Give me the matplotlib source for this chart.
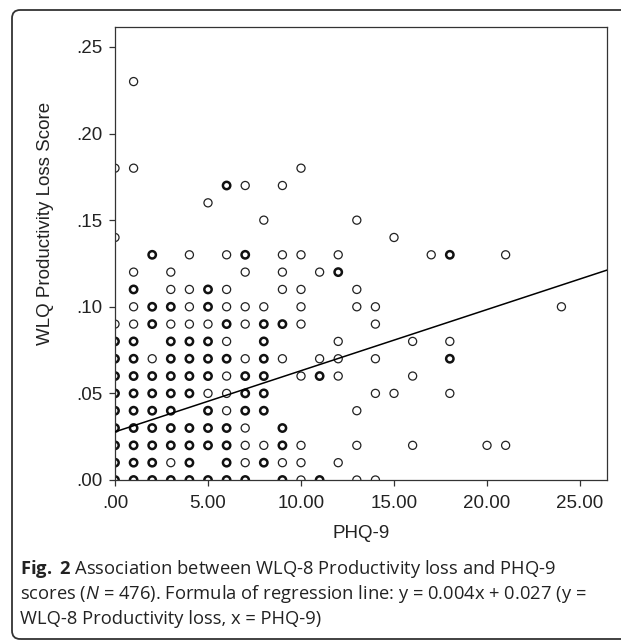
import matplotlib
matplotlib.use("Agg")
import matplotlib.pyplot as plt
from matplotlib.patches import FancyBboxPatch

# PHQ-9 (x) vs WLQ productivity loss (y); points drawn once per position.
# "single" = one respondent at that spot, "stacked" = several overlapping (drawn bold)
single_x = [1, 0, 1, 10, 7, 9, 5, 8, 13, 0, 15,
            4, 6, 9, 10, 12, 17, 21,
            1, 3, 7, 9, 11,
            3, 4, 6, 9, 10, 13,
            1, 4, 6, 7, 8, 10, 13, 14, 24,
            0, 1, 3, 4, 5, 7, 10, 14,
            6, 12, 16, 18,
            2, 7, 9, 11, 12, 14,
            6, 10, 12, 16,
            5, 6, 14, 15, 18,
            6, 13,
            7,
            7, 8, 10, 13, 16, 20, 21,
            3, 7, 9, 10, 12,
            10, 13, 14]
single_y = [.23, .18, .18, .18, .17, .17, .16, .15, .15, .14, .14,
            .13, .13, .13, .13, .13, .13, .13,
            .12, .12, .12, .12, .12,
            .11, .11, .11, .11, .11, .11,
            .10, .10, .10, .10, .10, .10, .10, .10, .10,
            .09, .09, .09, .09, .09, .09, .09, .09,
            .08, .08, .08, .08,
            .07, .07, .07, .07, .07, .07,
            .06, .06, .06, .06,
            .05, .05, .05, .05, .05,
            .04, .04,
            .03,
            .02, .02, .02, .02, .02, .02, .02,
            .01, .01, .01, .01, .01,
            .00, .00, .00]

stacked_x = [6,
             2, 7, 18,
             12,
             1, 5,
             2, 3, 5,
             2, 6, 8, 9,
             0, 1, 3, 4, 5, 8,
             0, 1, 3, 4, 5, 6, 8, 18,
             0, 1, 2, 3, 4, 5, 7, 8, 11,
             0, 1, 2, 3, 4, 7, 8,
             0, 1, 2, 3, 5, 7, 8,
             0, 1, 2, 3, 4, 5, 6, 9,
             0, 1, 2, 3, 4, 5, 6, 9,
             0, 1, 2, 4, 6, 8,
             0, 1, 2, 3, 4, 5, 6, 7, 9, 11]
stacked_y = [.17,
             .13, .13, .13,
             .12,
             .11, .11,
             .10, .10, .10,
             .09, .09, .09, .09,
             .08, .08, .08, .08, .08, .08,
             .07, .07, .07, .07, .07, .07, .07, .07,
             .06, .06, .06, .06, .06, .06, .06, .06, .06,
             .05, .05, .05, .05, .05, .05, .05,
             .04, .04, .04, .04, .04, .04, .04,
             .03, .03, .03, .03, .03, .03, .03, .03,
             .02, .02, .02, .02, .02, .02, .02, .02,
             .01, .01, .01, .01, .01, .01,
             .00, .00, .00, .00, .00, .00, .00, .00, .00, .00]

# fitted line as drawn
slope = 0.00353
intercept = 0.0278

x_ticks = [0, 5, 10, 15, 20, 25]
x_tick_labels = [".00", "5.00", "10.00", "15.00", "20.00", "25.00"]
y_ticks = [0, .05, .10, .15, .20, .25]
y_tick_labels = [".00", ".05", ".10", ".15", ".20", ".25"]

caption = [r"$\bf{Fig.}$ $\bf{2}$ Association between WLQ-8 Productivity loss and PHQ-9",
           r"scores ($\it{N}$ = 476). Formula of regression line: y = 0.004x + 0.027 (y =",
           "WLQ-8 Productivity loss, x = PHQ-9)"]

plt.rcParams['font.family'] = ['Liberation Sans', 'DejaVu Sans']
plt.rcParams['mathtext.fontset'] = 'custom'
plt.rcParams['mathtext.rm'] = 'Open Sans'
plt.rcParams['mathtext.it'] = 'Open Sans:italic'
plt.rcParams['mathtext.bf'] = 'Open Sans:bold'

W, H = 621, 641
fig = plt.figure(figsize=(W / 100, H / 100), dpi=100)
fig.patch.set_facecolor('white')

# rounded frame around the figure (right side runs off the image)
frame = FancyBboxPatch((12 / W, 2 / H), 680 / W, (H - 12) / H,
                       boxstyle="round,pad=0,rounding_size=0.013",
                       transform=fig.transFigure, fill=False,
                       edgecolor='#333333', linewidth=1.3)
fig.patches.append(frame)

ax = fig.add_axes([115 / W, 1 - 480 / H, 492 / W, 453 / H])
xmax = 26.45
ymax = 0.2615
ax.set_xlim(0, xmax)
ax.set_ylim(0, ymax)

ax.scatter(single_x, single_y, s=34, facecolors='none', edgecolors='#222222',
           linewidths=0.9, clip_on=True, zorder=2)
ax.scatter(stacked_x, stacked_y, s=28, facecolors='none', edgecolors='#111111',
           linewidths=1.8, clip_on=True, zorder=2)

ax.plot([0, xmax], [intercept, intercept + slope * xmax], color='black',
        linewidth=1.1, zorder=3)

ax.set_xticks(x_ticks)
ax.set_xticklabels(x_tick_labels)
ax.set_yticks(y_ticks)
ax.set_yticklabels(y_tick_labels)
ax.tick_params(direction='out', length=4, width=0.9, color='#333333',
               labelsize=13.5, labelcolor='#222222')
ax.tick_params(axis='x', pad=7)
ax.tick_params(axis='y', pad=5)
for sp in ax.spines.values():
    sp.set_linewidth(0.9)
    sp.set_color('#333333')

ax.set_xlabel("PHQ-9", fontsize=13.5, color='#222222', labelpad=9)
ax.set_ylabel("WLQ Productivity Loss Score", fontsize=13.5, color='#222222')
ax.yaxis.set_label_coords(-0.125, 0.567)

for i, line in enumerate(caption):
    fig.text(20 / W, 1 - (574 + 25 * i) / H, line, fontsize=13.2,
             family='Open Sans', color='#222222', ha='left', va='baseline')

fig.savefig("out.png", dpi=100)
